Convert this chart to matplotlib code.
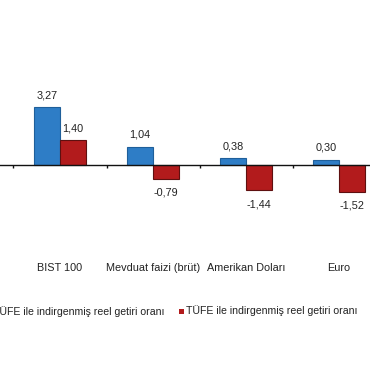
import matplotlib
matplotlib.use("Agg")
import matplotlib.pyplot as plt
import matplotlib.transforms as mtransforms
from matplotlib.patches import Rectangle

categories = ["BIST 100", "Mevduat faizi (brüt)", "Amerikan Doları", "Euro"]
yiufe_values = [3.27, 1.04, 0.38, 0.30]
tufe_values = [1.40, -0.79, -1.44, -1.52]
series_labels = ["Yİ-ÜFE ile indirgenmiş reel getiri oranı", "TÜFE ile indirgenmiş reel getiri oranı"]

blue = "#2E7DC6"
blue_edge = "#1F5F9A"
red = "#B21B1C"
red_edge = "#5E1010"
text_color = "#222222"

plt.rcParams['font.family'] = ['Liberation Sans', 'DejaVu Sans']

W, H = 370, 375
fig = plt.figure(figsize=(W / 100, H / 100), dpi=100)
top_px, bot_px = 30, 230
ax = fig.add_axes([0, (H - bot_px) / H, 1, (bot_px - top_px) / H])

x = list(range(len(categories)))
w = 0.28
ax.bar([i - w / 2 for i in x], yiufe_values, width=w, color=blue, edgecolor=blue_edge, linewidth=0.8, zorder=2)
ax.bar([i + w / 2 for i in x], tufe_values, width=w, color=red, edgecolor=red_edge, linewidth=0.8, zorder=2)

def fmt(v):
    return f"{v:.2f}".replace(".", ",")

for i, v in zip(x, yiufe_values):
    ax.annotate(fmt(v), (i - w / 2, v), xytext=(0, 8.6 if v >= 0 else -10), textcoords="offset points",
                ha="center", va="center", fontsize=7.8, color=text_color, annotation_clip=False)
for i, v in zip(x, tufe_values):
    ax.annotate(fmt(v), (i + w / 2, v), xytext=(0, 8.6 if v >= 0 else -10), textcoords="offset points",
                ha="center", va="center", fontsize=7.8, color=text_color, annotation_clip=False)

for s in ["top", "right", "left"]:
    ax.spines[s].set_visible(False)
ax.spines["bottom"].set_position(("data", 0))
ax.spines["bottom"].set_color("#111111")
ax.spines["bottom"].set_linewidth(1.0)
ax.set_yticks([])
ax.set_xticks([-0.5, 0.5, 1.5, 2.5, 3.5])
ax.set_xticklabels([])
ax.tick_params(axis="x", direction="out", length=2.5, width=1, color="#111111")
ax.patch.set_alpha(0)

scale = 17.6
zero_px = 165
ax.set_ylim(-(bot_px - zero_px) / scale, (zero_px - top_px) / scale)
ax.set_xlim(-60 / 93, (370 - 60) / 93)

trans = mtransforms.blended_transform_factory(ax.transData, fig.transFigure)
for i, c in zip(x, categories):
    fig.text(i, 1 - 268 / H, c, transform=trans, ha="center", va="center", fontsize=7.8, color=text_color)

# legend (manually placed, partially cropped like the reference)
ly = 1 - 311 / H
fig.text(165 / W, ly, series_labels[0], ha="right", va="center", fontsize=7.6, color=text_color)
fig.patches.append(Rectangle(((165 - 172 - 5) / W, ly - 2.5 / H), 5 / W, 5 / H, transform=fig.transFigure,
                             facecolor=blue, edgecolor="none"))
fig.patches.append(Rectangle((179 / W, ly - 2.5 / H), 5 / W, 5 / H, transform=fig.transFigure,
                             facecolor=red, edgecolor="none"))
fig.text(186 / W, ly, series_labels[1], ha="left", va="center", fontsize=7.6, color=text_color)

fig.savefig("out.png", dpi=100, facecolor="white")
